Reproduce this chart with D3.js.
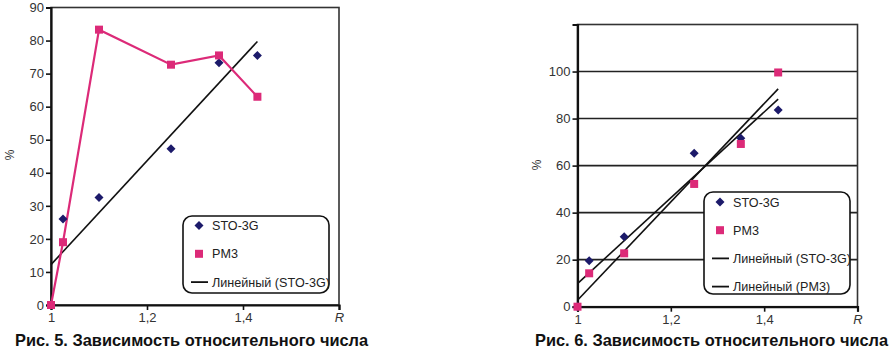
<!DOCTYPE html>
<html>
<head>
<meta charset="utf-8">
<script src="https://cdn.jsdelivr.net/npm/d3@7"></script>
<style>
  body { margin: 0; background: #fff; }
  svg { font-family: "Liberation Sans", Arial, sans-serif; }
</style>
</head>
<body>
<svg id="chart" width="892" height="350"></svg>
<script>
// values
var rValues = [1, 1.025, 1.1, 1.25, 1.35, 1.43];
var fig5Sto = [0, 26, 32.5, 47.3, 73.3, 75.5];
var fig5Pm3 = [0, 19, 83.3, 72.7, 75.5, 63];
var fig6Sto = [0, 19.5, 29.7, 65.2, 71.6, 83.6];
var fig6Pm3 = [0, 14.2, 22.7, 52.2, 69.2, 99.6];
var xTicks = [1, 1.2, 1.4];
var fig5YTicks = [0, 10, 20, 30, 40, 50, 60, 70, 80, 90];
var fig6YTicks = [0, 20, 40, 60, 80, 100];
var captions = ["Рис. 5. Зависимость относительного числа", "Рис. 6. Зависимость относительного числа"];

var PINK = "#dc2a78", NAVY = "#1c1a6a";

var svg = d3.select("#chart");

function fmt(d) { return String(d).replace(".", ","); }

// least squares line, like excel's "Линейный" trendline
function linFit(xs, ys) {
  var mx = d3.mean(xs), my = d3.mean(ys);
  var sxy = d3.sum(xs, function(x, i) { return (x - mx) * (ys[i] - my); });
  var sxx = d3.sum(xs, function(x) { return (x - mx) * (x - mx); });
  var k = sxy / sxx;
  return function(x) { return my + k * (x - mx); };
}

function drawPanel(p) {
  var x = d3.scaleLinear().domain([1, 1.6]).range([p.left, p.right]);
  var y = d3.scaleLinear().domain([0, p.yMax]).range([p.bottom, p.top]);
  var g = svg.append("g");

  if (p.grid) {
    g.selectAll(".grid").data(p.yTicks.filter(function(d) { return d > 0; }))
      .enter().append("line")
      .attr("x1", p.left).attr("x2", p.right)
      .attr("y1", function(d) { return y(d); }).attr("y2", function(d) { return y(d); })
      .attr("stroke", "#222").attr("stroke-width", 1.6);
  }

  // plot frame
  g.append("rect")
    .attr("x", p.left).attr("y", p.top)
    .attr("width", p.right - p.left).attr("height", p.bottom - p.top)
    .attr("fill", "none").attr("stroke", "#333").attr("stroke-width", 1.6);

  var yAxis = d3.axisLeft(y).tickValues(p.yTicks).tickSize(5).tickPadding(2).tickFormat(fmt);
  var ya = g.append("g").attr("transform", "translate(" + p.left + ",0)").call(yAxis);
  ya.select(".domain").attr("stroke", "#111").attr("stroke-width", 2.2);
  ya.selectAll(".tick line").attr("stroke", "#111").attr("stroke-width", 1.6);
  ya.selectAll("text").attr("font-size", 13).attr("fill", "#333").attr("font-family", null);

  var xAxis = d3.axisBottom(x).tickValues(xTicks.concat([1.6])).tickSize(5).tickPadding(3)
    .tickFormat(function(d) { return d === 1.6 ? "R" : fmt(d); });
  var xa = g.append("g").attr("transform", "translate(0," + p.bottom + ")").call(xAxis);
  xa.select(".domain").attr("stroke", "#111").attr("stroke-width", 2.2);
  xa.selectAll(".tick line").attr("stroke", "#111").attr("stroke-width", 1.6);
  xa.selectAll("text").attr("font-size", 13).attr("fill", "#333").attr("font-family", null)
    .attr("font-style", function(d) { return d === 1.6 ? "italic" : null; });

  g.append("text")
    .attr("transform", "translate(" + p.pctX + "," + p.pctY + ") rotate(-90)")
    .attr("text-anchor", "middle").attr("font-size", 12).attr("fill", "#333")
    .text("%");

  // trendlines
  p.trends.forEach(function(ys) {
    var f = linFit(rValues, ys);
    var x0 = rValues[0], x1 = rValues[rValues.length - 1];
    g.append("line")
      .attr("x1", x(x0)).attr("y1", y(f(x0)))
      .attr("x2", x(x1)).attr("y2", y(f(x1)))
      .attr("stroke", "#111").attr("stroke-width", 1.6);
  });

  var pts = function(ys) { return rValues.map(function(r, i) { return [r, ys[i]]; }); };

  if (p.pinkLine) {
    g.append("path").datum(pts(p.pm3))
      .attr("d", d3.line().x(function(d) { return x(d[0]); }).y(function(d) { return y(d[1]); }))
      .attr("fill", "none").attr("stroke", PINK).attr("stroke-width", 2.2);
  }

  g.selectAll(".sto").data(pts(p.sto)).enter().append("path")
    .attr("transform", function(d) { return "translate(" + x(d[0]) + "," + y(d[1]) + ")"; })
    .attr("d", "M0,-4.5L4.5,0L0,4.5L-4.5,0Z").attr("fill", NAVY);

  g.selectAll(".pm3").data(pts(p.pm3)).enter().append("rect")
    .attr("x", function(d) { return x(d[0]) - 4; }).attr("y", function(d) { return y(d[1]) - 4; })
    .attr("width", 8).attr("height", 8).attr("fill", PINK);

  // legend
  var L = p.legend;
  var lg = g.append("g");
  lg.append("rect").attr("x", L.x).attr("y", L.y).attr("width", L.w).attr("height", L.h)
    .attr("rx", 9).attr("fill", "#fff").attr("stroke", "#111").attr("stroke-width", 1.6);
  L.items.forEach(function(it, i) {
    var cy = L.y + L.first + i * L.step;
    var cx = L.x + 16;
    if (it.kind === "dia") {
      lg.append("path").attr("transform", "translate(" + cx + "," + cy + ")")
        .attr("d", "M0,-4.5L4.5,0L0,4.5L-4.5,0Z").attr("fill", NAVY);
    } else if (it.kind === "sq") {
      lg.append("rect").attr("x", cx - 4).attr("y", cy - 4).attr("width", 8).attr("height", 8).attr("fill", PINK);
    } else {
      lg.append("line").attr("x1", cx - 8).attr("x2", cx + 9).attr("y1", cy).attr("y2", cy)
        .attr("stroke", "#111").attr("stroke-width", 1.8);
    }
    lg.append("text").attr("x", L.x + 29).attr("y", cy + 4.5)
      .attr("font-size", 12.6).attr("fill", "#222").text(it.label);
  });

  svg.append("text").attr("x", p.capX).attr("y", 345.5)
    .attr("font-size", 16.4).attr("font-weight", "bold").attr("fill", "#111")
    .text(p.caption);
}

drawPanel({
  left: 51, right: 339, top: 7.5, bottom: 305, yMax: 90, yTicks: fig5YTicks, grid: false,
  sto: fig5Sto, pm3: fig5Pm3, pinkLine: true, trends: [fig5Sto],
  pctX: 14, pctY: 155,
  legend: { x: 183, y: 216, w: 146, h: 77, first: 9.5, step: 28.3,
    items: [{ kind: "dia", label: "STO-3G" }, { kind: "sq", label: "PM3" }, { kind: "ln", label: "Линейный (STO-3G)" }] },
  capX: 15, caption: captions[0]
});

drawPanel({
  left: 577.5, right: 857.5, top: 24.5, bottom: 306.7, yMax: 120, yTicks: fig6YTicks, grid: true,
  sto: fig6Sto, pm3: fig6Pm3, pinkLine: false, trends: [fig6Sto, fig6Pm3],
  pctX: 541, pctY: 165,
  legend: { x: 704, y: 192, w: 146, h: 102, first: 10, step: 28.2,
    items: [{ kind: "dia", label: "STO-3G" }, { kind: "sq", label: "PM3" },
      { kind: "ln", label: "Линейный (STO-3G)" }, { kind: "ln", label: "Линейный (PM3)" }] },
  capX: 535, caption: captions[1]
});
</script>
</body>
</html>
